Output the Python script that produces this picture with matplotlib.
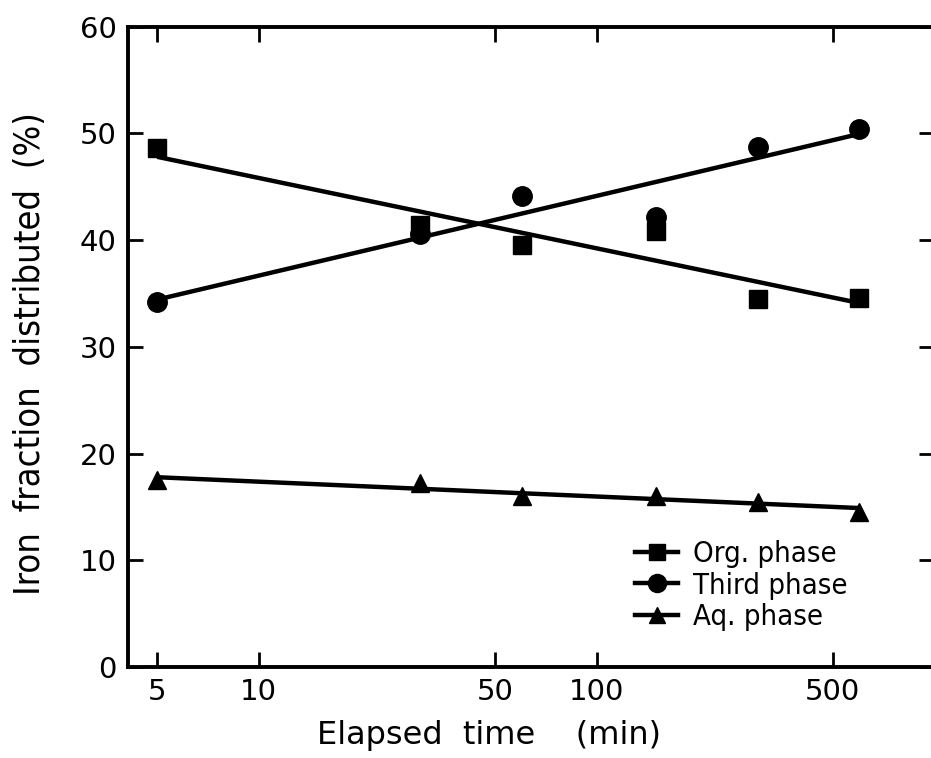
#!/usr/bin/env python3
"""Iron fraction distributed vs elapsed time (log x), with log-linear fits."""

import numpy as np
import matplotlib

matplotlib.use("Agg")
import matplotlib.pyplot as plt
from matplotlib.ticker import FixedLocator, FixedFormatter, NullLocator

# data
TIME_MIN = [5, 30, 60, 150, 300, 600]
ORG_PHASE = [48.6, 41.4, 39.5, 40.8, 34.5, 34.6]
THIRD_PHASE = [34.2, 40.6, 44.1, 42.2, 48.7, 50.4]
AQ_PHASE = [17.5, 17.2, 16.0, 16.0, 15.5, 14.5]

XTICKS = [5, 10, 50, 100, 500]
YTICKS = [0, 10, 20, 30, 40, 50, 60]

SERIES = [
    ("Org. phase", ORG_PHASE, "s", 12.5),
    ("Third phase", THIRD_PHASE, "o", 14),
    ("Aq. phase", AQ_PHASE, "^", 13),
]


def fit_line(x, y):
    lx = np.log10(np.asarray(x, dtype=float))
    slope, icpt = np.polyfit(lx, np.asarray(y, dtype=float), 1)
    xs = np.array([min(x), max(x)], dtype=float)
    return xs, icpt + slope * np.log10(xs)


def main():
    fig = plt.figure(figsize=(9.31, 7.58), dpi=100)
    ax = fig.add_axes([0.1375, 0.12, 0.866, 0.845])

    handles = []
    for label, values, marker, ms in SERIES:
        xs, ys = fit_line(TIME_MIN, values)
        ax.plot(xs, ys, color="black", linewidth=3.2, solid_capstyle="butt")
        ax.plot(TIME_MIN, values, linestyle="none", marker=marker, markersize=ms,
                color="black")
        (h,) = ax.plot([], [], color="black", linewidth=3.2, marker=marker,
                       markersize=ms - 1, label=label)
        handles.append(h)

    ax.set_xscale("log")
    ax.set_xlim(4.1, 1000)
    ax.set_ylim(0, 60)
    ax.xaxis.set_major_locator(FixedLocator(XTICKS))
    ax.xaxis.set_major_formatter(FixedFormatter([str(t) for t in XTICKS]))
    ax.xaxis.set_minor_locator(NullLocator())
    ax.set_yticks(YTICKS)

    ax.tick_params(axis="both", which="major", direction="in", length=11, width=2.0,
                   labelsize=21, top=True, right=True, pad=8)
    for spine in ax.spines.values():
        spine.set_linewidth(2.8)

    ax.set_xlabel("Elapsed  time    (min)",
                  fontdict={"family": "DejaVu Sans", "size": 23})
    ax.xaxis.set_label_coords(0.448, -0.083)
    ax.set_ylabel("Iron  fraction  distributed  (%)",
                  fontdict={"family": "DejaVu Sans", "stretch": "condensed", "size": 26})
    ax.yaxis.set_label_coords(-0.101, 0.49)

    ax.legend(handles=handles, loc="lower right", bbox_to_anchor=(0.925, 0.015),
              frameon=False, handlelength=1.5, handletextpad=0.5, labelspacing=0.12,
              prop={"family": "DejaVu Sans", "stretch": "condensed", "size": 21})

    fig.savefig("out.png", dpi=100)
    plt.close(fig)


if __name__ == "__main__":
    main()
